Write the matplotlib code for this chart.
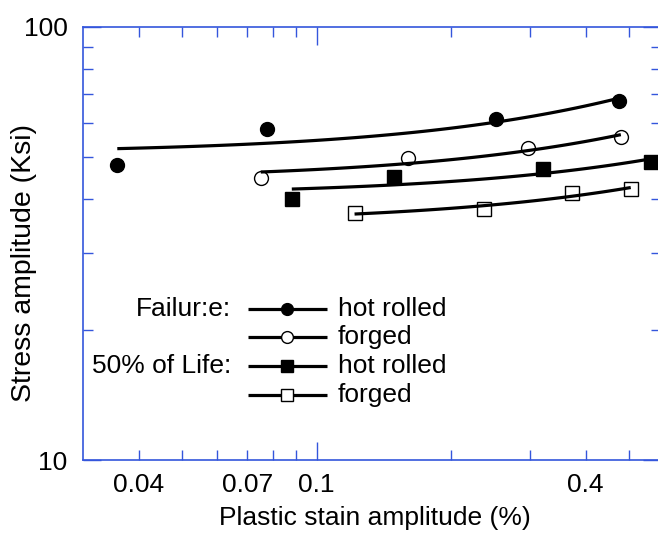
import matplotlib
matplotlib.use('Agg')
import matplotlib.pyplot as plt
import numpy as np

plt.rcParams['font.family'] = ['Liberation Sans', 'DejaVu Sans']

# data
fail_hot_x = [0.0358, 0.0773, 0.252, 0.474]
fail_hot_y = [48.0, 58.1, 61.4, 67.5]
fail_forged_x = [0.0750, 0.1605, 0.2972, 0.4797]
fail_forged_y = [44.8, 49.8, 52.6, 55.7]
half_hot_x = [0.0880, 0.1493, 0.3211, 0.5596]
half_hot_y = [40.1, 45.0, 47.0, 48.8]
half_forged_x = [0.1216, 0.2371, 0.3727, 0.5048]
half_forged_y = [37.2, 38.0, 41.4, 42.3]

x_minor = [0.04, 0.05, 0.06, 0.07, 0.08, 0.09, 0.2, 0.3, 0.4, 0.5]
x_minor_labels = ['0.04', '', '', '0.07', '', '', '', '', '0.4', '']
y_minor = [20, 30, 40, 50, 60, 70, 80, 90]

axis_blue = '#3456dc'
fs = 19

fig = plt.figure(figsize=(6.58, 5.33), dpi=100)
ax = fig.add_axes([83/658, 73/533, 578/658, 433/533])
ax.set_xscale('log')
ax.set_yscale('log')
ax.set_xlim(0.03, 0.59)
ax.set_ylim(10, 100)


def series(x, y, marker, filled):
    # straight line fit y = a + b*x, drawn on log axes
    b, a = np.polyfit(x, y, 1)
    xs = np.geomspace(min(x), max(x), 60)
    ax.plot(xs, a + b*xs, color='black', lw=2.3, solid_capstyle='butt', zorder=2)
    if filled:
        ax.plot(x, y, marker, ms=10, color='black', ls='none', zorder=3, clip_on=False)
    else:
        ax.plot(x, y, marker, ms=10, mfc='none', mec='black', mew=1.0, ls='none', zorder=3, clip_on=False)


series(fail_hot_x, fail_hot_y, 'o', True)
series(fail_forged_x, fail_forged_y, 'o', False)
series(half_hot_x, half_hot_y, 's', True)
series(half_forged_x, half_forged_y, 's', False)

# hand made legend (axes fraction)
def ax_frac(px, py):
    return (px - 83) / 578, (460 - py) / 433

rows = [(309, 'o', True, 'hot rolled', 'Failur:e:'),
        (337, 'o', False, 'forged', None),
        (366, 's', True, 'hot rolled', '50% of Life:'),
        (395, 's', False, 'forged', None)]
for py, mk, filled, lab, head in rows:
    x0, y0 = ax_frac(248, py)
    x1, _ = ax_frac(327, py)
    xm, _ = ax_frac(287, py)
    ax.plot([x0, x1], [y0, y0], color='black', lw=2.3, transform=ax.transAxes, solid_capstyle='butt')
    if filled:
        ax.plot([xm], [y0], mk, ms=8.5, color='black', transform=ax.transAxes)
    else:
        ax.plot([xm], [y0], mk, ms=8.5, mfc='white', mec='black', mew=1.0, transform=ax.transAxes)
    tx, _ = ax_frac(338, py)
    ax.text(tx, y0, lab, transform=ax.transAxes, fontsize=fs, va='center', ha='left')
    if head:
        hx, _ = ax_frac(231, py)
        ax.text(hx, y0, head, transform=ax.transAxes, fontsize=fs, va='center', ha='right')

# ticks
ax.set_xticks([0.1], ['0.1'])
ax.set_xticks(x_minor, x_minor_labels, minor=True)
ax.set_yticks([10, 100], ['10', '100'])
ax.set_yticks(y_minor, ['']*len(y_minor), minor=True)
ax.tick_params(which='both', direction='in', top=True, right=True, color=axis_blue,
               labelsize=fs, width=1.0)
ax.tick_params(which='major', length=13)
ax.tick_params(which='minor', length=7)
ax.tick_params(axis='x', which='both', pad=9)
ax.tick_params(axis='y', which='both', pad=11)
for s in ax.spines.values():
    s.set_color(axis_blue)
    s.set_linewidth(1.2)

ax.set_xlabel('Plastic stain amplitude (%)', fontsize=fs)
ax.set_ylabel('Stress amplitude (Ksi)', fontsize=20.5)
ax.xaxis.set_label_coords((375 - 83) / 578, (460 - 506) / 433)
ax.yaxis.set_label_coords((37 - 83) / 578, (460 - 263) / 433)

fig.savefig('out.png', dpi=100)
